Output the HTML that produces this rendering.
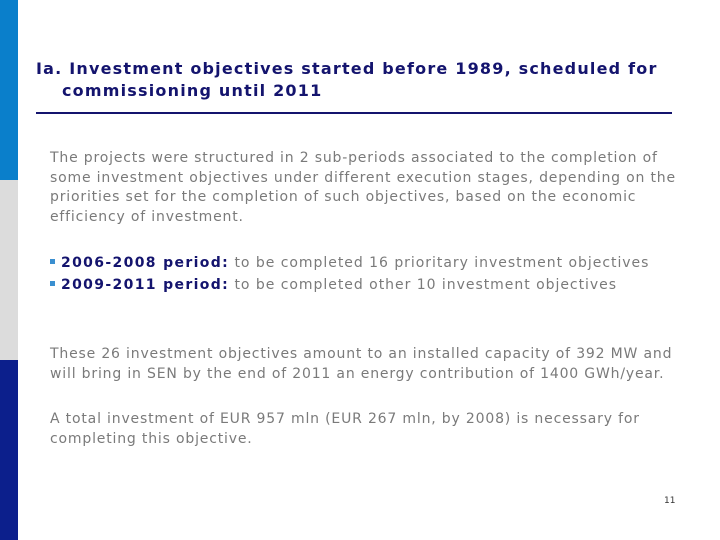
<!DOCTYPE html>
<html><head><meta charset="utf-8"><style>
body{margin:0;width:720px;height:540px;background:#fff;position:relative;overflow:hidden;font-family:"DejaVu Sans","Liberation Sans",sans-serif}
.bar{position:absolute;left:0;width:18px}
.t{position:absolute;white-space:nowrap}
.title{left:36px;color:#14146e;font-weight:bold;font-size:16px;letter-spacing:1.2px;line-height:22px;top:58px}
.body{color:#7a7a7a;font-size:14px;letter-spacing:0.82px;line-height:19.5px}
.bl{letter-spacing:0.97px}
.b{color:#14146e;font-weight:bold;letter-spacing:1.35px}
.sq{display:inline-block;width:5px;height:5px;background:#3a8fd0;margin-right:6px;vertical-align:middle;position:relative;top:-2px}
</style></head><body>
<div class="bar" style="top:0;height:180px;background:#0a7fcb"></div>
<div class="bar" style="top:180px;height:180px;background:#dcdcdc"></div>
<div class="bar" style="top:360px;height:180px;background:#0c1f8c"></div>
<div class="t title">Ia. Investment objectives started before 1989, scheduled for<br><span style="padding-left:26px">commissioning until 2011</span></div>
<div style="position:absolute;left:36px;top:112px;width:636px;height:2px;background:#14146e"></div>
<div class="t body" style="left:50px;top:149px">The projects were structured in 2 sub-periods associated to the completion of<br>some investment objectives under different execution stages, depending on the<br>priorities set for the completion of such objectives, based on the economic<br>efficiency of investment.</div>
<div class="t body bl" style="left:50px;top:254px"><span class="sq"></span><span class="b">2006-2008 period:</span> to be completed 16 prioritary investment objectives</div>
<div class="t body bl" style="left:50px;top:276px"><span class="sq"></span><span class="b">2009-2011 period:</span> to be completed other 10 investment objectives</div>
<div class="t body" style="left:50px;top:345px">These 26 investment objectives amount to an installed capacity of 392 MW and<br>will bring in SEN by the end of 2011 an energy contribution of 1400 GWh/year.</div>
<div class="t body" style="left:50px;top:410px">A total investment of EUR 957 mln (EUR 267 mln, by 2008) is necessary for<br>completing this objective.</div>
<div class="t" style="left:664px;top:496px;font-size:9px;color:#333">11</div>
</body></html>
